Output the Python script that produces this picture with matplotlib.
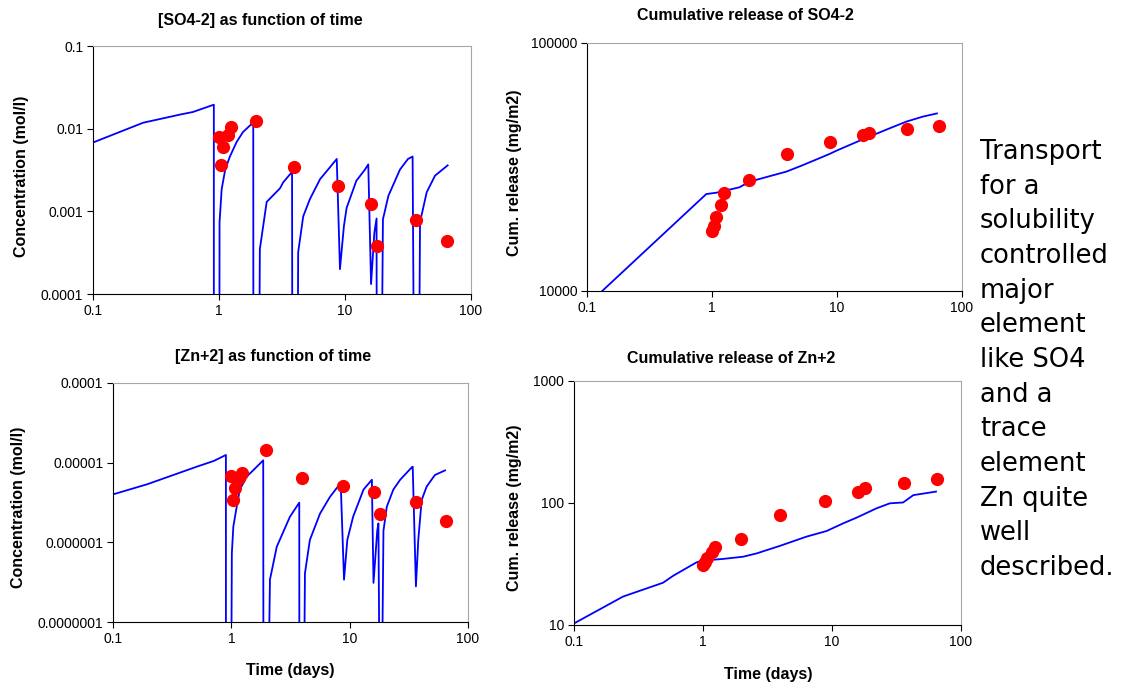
import matplotlib
matplotlib.use("Agg")
import matplotlib.pyplot as plt
from matplotlib.ticker import FixedLocator, NullLocator

plt.rcParams['font.family'] = ['Liberation Sans', 'DejaVu Sans']

FLOOR = 1e-9  # below the axes, the model dips off the chart there

# measured data (shared sampling times)
meas_t = [1.0, 1.03, 1.08, 1.17, 1.24, 1.98, 3.97, 8.83, 16.0, 18.0, 36.3, 64.9]
so4_conc = [0.0080, 0.0036, 0.0060, 0.0083, 0.0104, 0.0123, 0.00347, 0.0020,
            0.00122, 0.00038, 0.00079, 0.00044]
so4_cum = [17400, 18300, 19900, 22200, 24750, 27950, 35700, 39700, 42600,
           43500, 44900, 46400]
zn_conc = [6.8e-6, 3.4e-6, 4.85e-6, 6.5e-6, 7.5e-6, 1.44e-5, 6.35e-6, 5.1e-6,
           4.3e-6, 2.27e-6, 3.17e-6, 1.87e-6]
zn_cum = [31.0, 33.0, 35.6, 39.9, 43.2, 50.7, 79.8, 104, 122, 133, 147, 156]

# model curves
so4_model_t = [0.1, 0.25, 0.5, 0.62, 0.91, 0.91, 1.0, 1.01, 1.05, 1.12, 1.22,
               1.38, 1.55, 1.87, 1.88, 2.01, 2.11, 2.39, 3.05, 3.23, 3.8, 3.85,
               4.1, 4.25, 4.66, 5.26, 6.34, 7.58, 8.6, 9.12, 9.8, 10.3, 12.3,
               14.4, 15.3, 16.1, 17.1, 17.8, 18.0, 18.6, 20.0, 22.1, 27.3, 31.6,
               34.4, 36.6, 37.2, 39.4, 44.5, 51.8, 65.3]
so4_model_c = [0.0068, 0.0118, 0.0149, 0.0159, 0.0195, FLOOR, FLOOR, 0.00074,
               0.00185, 0.0032, 0.0046, 0.0069, 0.0091, 0.0119, FLOOR, FLOOR,
               0.00035, 0.0013, 0.0019, 0.00224, 0.0030, FLOOR, FLOOR, 0.00032,
               0.00087, 0.0014, 0.00245, 0.0034, 0.0043, 0.0002, 0.00066,
               0.0011, 0.00234, 0.0032, 0.0037, 0.000132, 0.00055, 0.00082,
               FLOOR, FLOOR, 0.0008, 0.00154, 0.0032, 0.0043, 0.0046, FLOOR,
               FLOOR, 0.00074, 0.0017, 0.0027, 0.0036]

so4_cum_model_t = [0.1, 0.90, 1.08, 1.66, 2.0, 3.94, 5.35, 8.73, 9.9, 16.1,
                   26.4, 35.9, 48.7, 63.0]
so4_cum_model_c = [8770, 24600, 24900, 26200, 27600, 30300, 32200, 35700,
                   36800, 40900, 45300, 48200, 50500, 52000]

zn_model_t = [0.1, 0.194, 0.51, 0.71, 0.90, 0.90, 0.99, 1.01, 1.04, 1.11,
              1.18, 1.35, 1.54, 1.86, 1.87, 2.01, 2.12, 2.42, 3.13, 3.75, 3.76,
              4.05, 4.19, 4.61, 5.62, 6.8, 7.77, 8.4, 8.96, 9.55, 10.7, 13.1,
              15.4, 15.9, 17.1, 17.5, 18.1, 18.4, 19.3, 20.6, 23.4, 26.7, 33.4,
              34.1, 36.3, 38.0, 40.6, 44.7, 52.5, 64.0]
zn_model_c = [4.0e-6, 5.35e-6, 8.9e-6, 1.05e-5, 1.25e-5, FLOOR, FLOOR, 7.3e-7,
              1.58e-6, 2.8e-6, 4.6e-6, 6.7e-6, 8.1e-6, 1.07e-5, FLOOR, FLOOR,
              3.4e-7, 8.8e-7, 2.1e-6, 3.15e-6, FLOOR, FLOOR, 4.1e-7, 1.07e-6,
              2.3e-6, 3.7e-6, 4.8e-6, 5.5e-6, 3.4e-7, 1.07e-6, 2.1e-6, 4.6e-6,
              6.1e-6, 3.1e-7, 1.4e-6, 1.73e-6, FLOOR, FLOOR, 1.4e-6, 2.8e-6,
              4.6e-6, 6.1e-6, 8.7e-6, 8.9e-6, 2.8e-7, 1.07e-6, 3.4e-6, 5.0e-6,
              7.0e-6, 8.0e-6]

zn_cum_model_t = [0.1, 0.24, 0.49, 0.59, 0.89, 1.0, 1.13, 1.43, 2.05, 2.6,
                  3.94, 6.34, 9.07, 12.2, 15.5, 22.1, 28.1, 35.6, 42.7, 64.0]
zn_cum_model_c = [10.3, 17.1, 22.2, 25.4, 32.6, 34.0, 34.1, 34.8, 36.3, 38.6,
                  44.5, 53.0, 58.9, 68.1, 75.8, 90.4, 99.4, 101, 116, 124]

x_ticks = [0.1, 1, 10, 100]
x_labels = ["0.1", "1", "10", "100"]

note_lines = ["Transport", "for a", "solubility", "controlled", "major",
              "element", "like SO4", "and a", "trace", "element",
              "Zn quite", "well", "described."]

W, H = 1122, 685
fig = plt.figure(figsize=(W / 100, H / 100), dpi=100)


def box(l, t, r, b):
    return [l / W, 1 - b / H, (r - l) / W, (b - t) / H]


def style(ax, ylim, yticks, ylabels):
    ax.set_xscale('log')
    ax.set_yscale('log')
    ax.set_xlim(0.1, 100)
    ax.set_ylim(*ylim)
    ax.xaxis.set_major_locator(FixedLocator(x_ticks))
    ax.xaxis.set_minor_locator(NullLocator())
    ax.set_xticklabels(x_labels)
    ax.yaxis.set_major_locator(FixedLocator(yticks))
    ax.yaxis.set_minor_locator(NullLocator())
    ax.set_yticklabels(ylabels)
    ax.tick_params(direction='out', length=4, width=0.8, labelsize=10, pad=3)
    for s in ('top', 'right'):
        ax.spines[s].set_color('#a6a6a6')
    for s in ('left', 'bottom'):
        ax.spines[s].set_color('black')


def draw(ax, mt, mc, dt, dc):
    ax.plot(mt, mc, color='#0000ff', lw=1.3, zorder=2)
    ax.plot(dt, dc, 'o', color='#ff0000', ms=8.5, mec='#ff0000', zorder=3,
            clip_on=False)


ax1 = fig.add_axes(box(93, 46, 471, 294))
draw(ax1, so4_model_t, so4_model_c, meas_t, so4_conc)
style(ax1, (1e-4, 0.1), [1e-4, 1e-3, 1e-2, 1e-1],
      ["0.0001", "0.001", "0.01", "0.1"])

ax2 = fig.add_axes(box(587, 43, 962, 291))
draw(ax2, so4_cum_model_t, so4_cum_model_c, meas_t, so4_cum)
style(ax2, (1e4, 1e5), [1e4, 1e5], ["10000", "100000"])

ax3 = fig.add_axes(box(113, 383, 468, 622))
draw(ax3, zn_model_t, zn_model_c, meas_t, zn_conc)
style(ax3, (1e-7, 1e-4), [1e-7, 1e-6, 1e-5, 1e-4],
      ["0.0000001", "0.000001", "0.00001", "0.0001"])

ax4 = fig.add_axes(box(574, 381, 961, 625))
draw(ax4, zn_cum_model_t, zn_cum_model_c, meas_t, zn_cum)
style(ax4, (10, 1000), [10, 100, 1000], ["10", "100", "1000"])

bold = dict(fontsize=11.5, fontweight='bold', ha='center', va='center')
fig.text(260 / W, 1 - 21 / H, "[SO4-2] as function of time", **bold)
fig.text(745 / W, 1 - 16 / H, "Cumulative release of SO4-2", **bold)
fig.text(273 / W, 1 - 357 / H, "[Zn+2] as function of time", **bold)
fig.text(731 / W, 1 - 358 / H, "Cumulative release of Zn+2", **bold)

fig.text(22 / W, 1 - 176 / H, "Concentration (mol/l)", rotation=90, **bold)
fig.text(514 / W, 1 - 173 / H, "Cum. release (mg/m2)", rotation=90, **bold)
fig.text(19 / W, 1 - 507 / H, "Concentration (mol/l)", rotation=90, **bold)
fig.text(515 / W, 1 - 508 / H, "Cum. release (mg/m2)", rotation=90, **bold)

fig.text(290 / W, 1 - 671 / H, "Time (days)", **bold)
fig.text(768 / W, 1 - 675 / H, "Time (days)", **bold)

# note on the right, one text per line
y0, step = 152, (568 - 152) / (len(note_lines) - 1)
for i, line in enumerate(note_lines):
    fig.text(980 / W, 1 - (y0 + i * step) / H, line, fontsize=18.5,
             family='DejaVu Sans', ha='left', va='center')

fig.savefig("out.png", dpi=100)
